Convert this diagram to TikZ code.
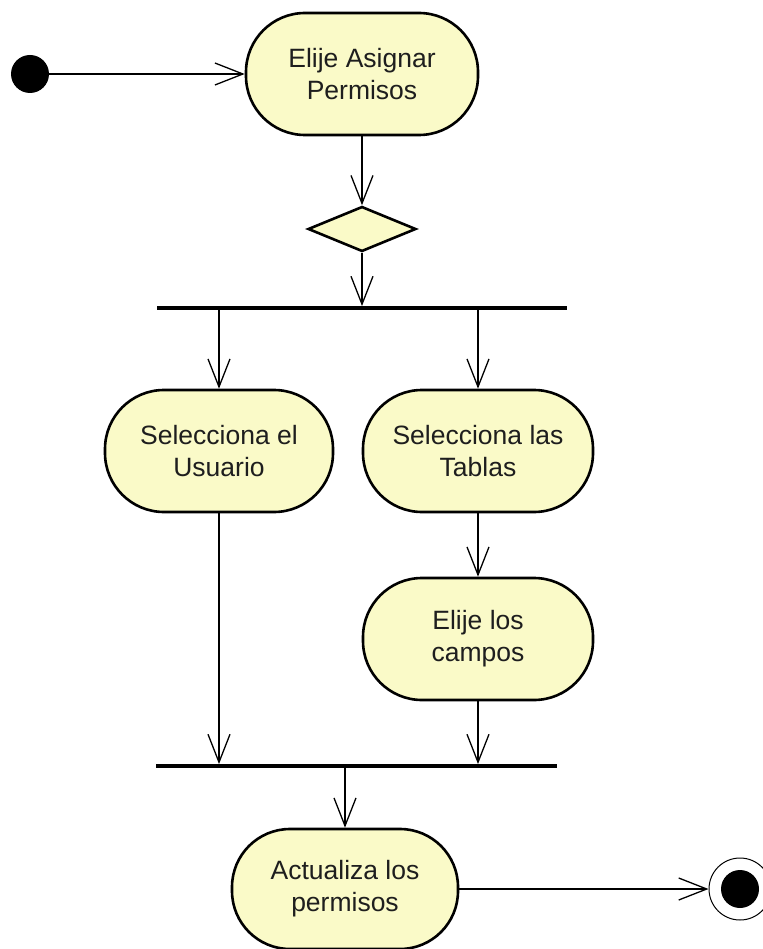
\documentclass[tikz,border=0pt]{standalone}
\usepackage{fontspec}
\setmainfont{Liberation Sans}
\usetikzlibrary{arrows.meta,shapes.geometric}
\definecolor{actfill}{RGB}{250,250,200}
\definecolor{txt}{RGB}{30,30,30}
\begin{document}
\begin{tikzpicture}[x=1pt,y=-1pt,
  act/.style={rectangle, rounded corners=59pt, draw=black, line width=2.6pt, fill=actfill,
    minimum width=230pt, minimum height=122pt, inner sep=0pt, align=center,
    font=\fontsize{26.5}{32}\selectfont, text=txt},
  bar/.style={rectangle, fill=black, inner sep=0pt, minimum height=3.5pt},
  flow/.style={line width=1.3pt, -{Straight Barb[length=28pt,width=22pt,line width=1.3pt]}},
]
\useasboundingbox (0,0) rectangle (762,949);
\node[circle, fill=black, minimum size=38pt, inner sep=0pt] (init) at (30,74) {};
\node[act, minimum width=232pt] (elije) at (362,74) {Elije Asignar\\Permisos};
\node[diamond, draw=black, line width=2.6pt, fill=actfill, minimum width=108pt, minimum height=45pt, inner sep=0pt] (dec) at (362,229) {};
\node[bar, minimum width=410pt] (fork) at (362,308) {};
\node[act, minimum width=228pt] (usu) at (219,451) {Selecciona el\\Usuario};
\node[act] (tab) at (478,451) {Selecciona las\\Tablas};
\node[act] (camp) at (478,639) {Elije los\\campos};
\node[bar, minimum width=401pt] (join) at (356.5,766) {};
\node[act, minimum width=226pt, minimum height=120pt, rounded corners=58pt] (actu) at (345,889) {Actualiza los\\permisos};
\node[circle, draw=black, line width=1pt, minimum size=62pt, inner sep=0pt] (fin) at (740,889) {};
\node[circle, fill=black, minimum size=38pt, inner sep=0pt] (finin) at (fin.center) {};

\draw[flow] (init) -- (elije.west);
\draw[flow] (elije.south) -- (dec.north);
\draw[flow] (dec.south) -- (fork.north -| dec.south);
\draw[flow] (fork.south -| usu.north) -- (usu.north);
\draw[flow] (fork.south -| tab.north) -- (tab.north);
\draw[flow] (tab.south) -- (camp.north);
\draw[flow] (usu.south) -- (join.north -| usu.south);
\draw[flow] (camp.south) -- (join.north -| camp.south);
\draw[flow] (join.south -| actu.north) -- (actu.north);
\draw[flow] (actu.east) -- (fin.west);
\end{tikzpicture}
\end{document}
